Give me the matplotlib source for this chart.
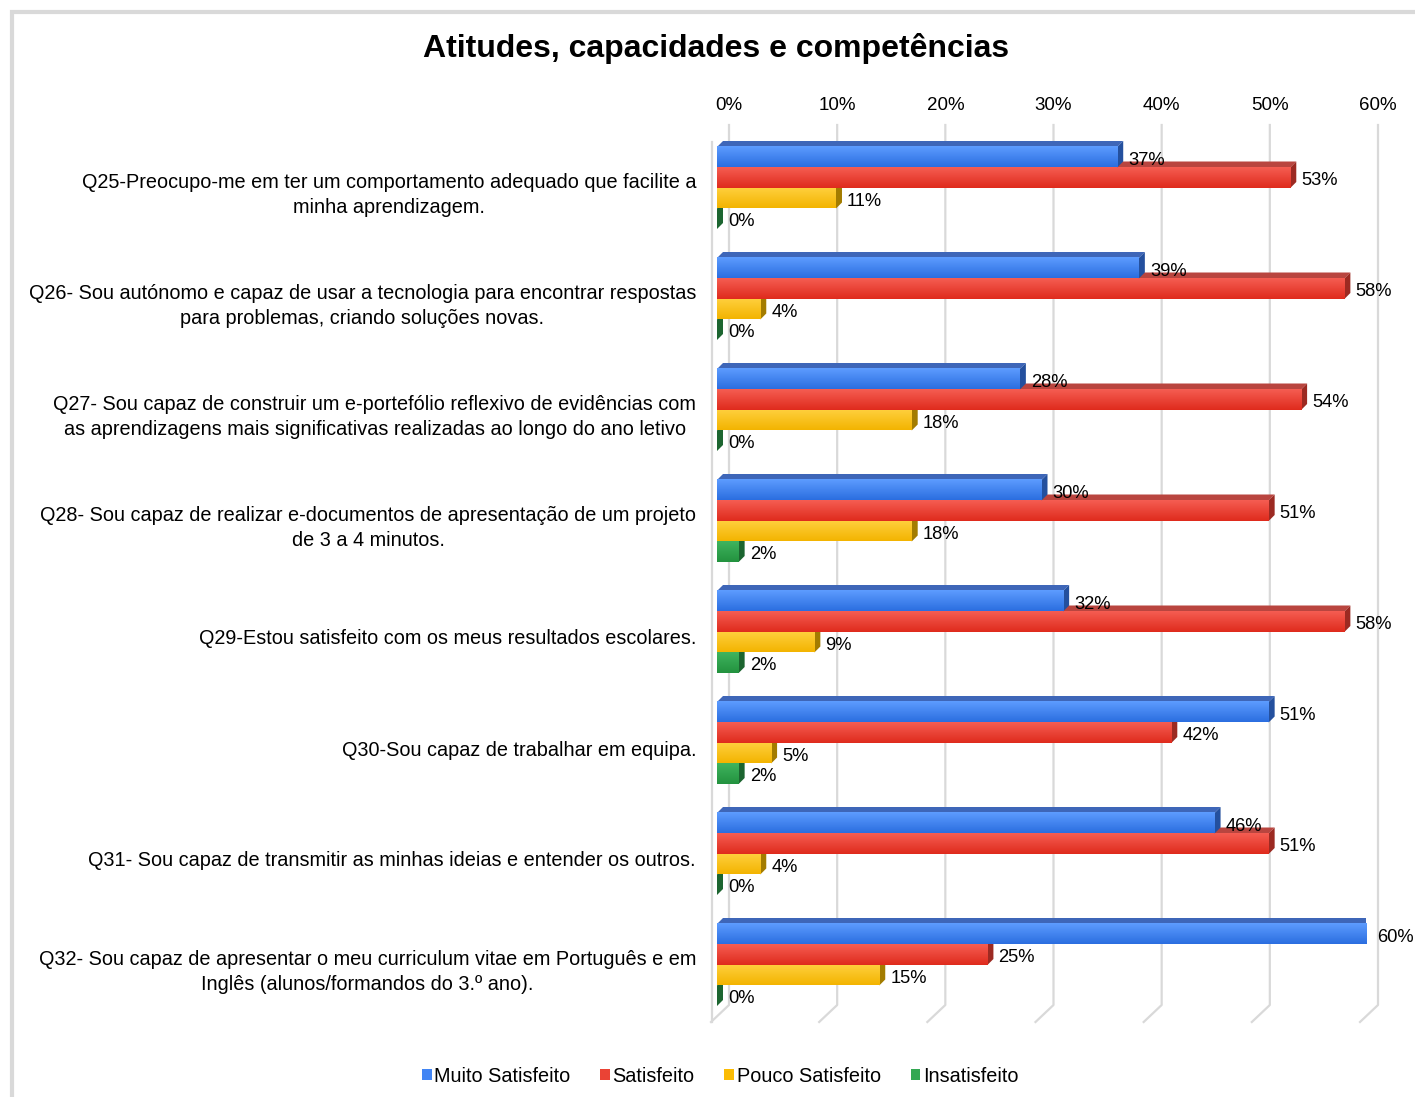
import numpy as np
import matplotlib
matplotlib.use('Agg')
import matplotlib.pyplot as plt
from matplotlib.patches import Polygon, Rectangle, Patch
from matplotlib.colors import LinearSegmentedColormap

plt.rcParams['font.family'] = ['Liberation Sans', 'DejaVu Sans']

title = 'Atitudes, capacidades e competências'
questions = [
    'Q25-Preocupo-me em ter um comportamento adequado que facilite a\nminha aprendizagem.',
    'Q26- Sou autónomo e capaz de usar a tecnologia para encontrar respostas\npara problemas, criando soluções novas.',
    'Q27- Sou capaz de construir um e-portefólio reflexivo de evidências com\nas aprendizagens mais significativas realizadas ao longo do ano letivo',
    'Q28- Sou capaz de realizar e-documentos de apresentação de um projeto\nde 3 a 4 minutos.',
    'Q29-Estou satisfeito com os meus resultados escolares.',
    'Q30-Sou capaz de trabalhar em equipa.',
    'Q31- Sou capaz de transmitir as minhas ideias e entender os outros.',
    'Q32- Sou capaz de apresentar o meu curriculum vitae em Português e em\nInglês (alunos/formandos do 3.º ano).',
]
series = ['Muito Satisfeito', 'Satisfeito', 'Pouco Satisfeito', 'Insatisfeito']
muito = [37, 39, 28, 30, 32, 51, 46, 60]
satisf = [53, 58, 54, 51, 58, 42, 51, 25]
pouco = [11, 4, 18, 18, 9, 5, 4, 15]
insat = [0, 0, 0, 2, 2, 2, 0, 0]
ticks = [0, 10, 20, 30, 40, 50, 60]

# colours: front face (top/bottom of gradient), top face, side face, legend
front_top = ['#5d9cff', '#f55d52', '#ffd03f', '#3fb45e']
front_bot = ['#2b6ee0', '#df2b1d', '#f3b400', '#23923f']
top_col = ['#3e66b8', '#b9453f', '#c79c1c', '#2a7a3e']
side_col = ['#24509e', '#9c2a22', '#a37c00', '#1c6530']
legend_col = ['#4285f4', '#ea4335', '#fbbc05', '#34a853']
grid_col = '#d9d9d9'

W, H = 1415, 1097
fig = plt.figure(figsize=(W / 100, H / 100), dpi=100)

# frame drawn around the chart (only top/left visible)
fig.add_artist(Rectangle((12 / W, -0.1), 2, 1.1 - 12 / H, transform=fig.transFigure,
                         fill=False, edgecolor=grid_col, lw=3))

ax = fig.add_axes([717 / W, 1 - 1022 / H, (1366 - 717) / W, (1022 - 122) / H])
ax.set_xlim(0, 60)
ax.set_ylim((1022 - 188) / 111, (122 - 188) / 111)
ax.axis('off')


def to_px(x, y):
    return ax.transData.transform((x, y))


def to_dat(p):
    return ax.transData.inverted().transform(p)


# back wall grid + floor
back_dx = 12
for t in ticks:
    xb = to_px(t, 0)[0] + back_dx
    pts = np.array([[xb, H - 125], [xb, H - 1005], [xb - 18, H - 1022]])
    d = to_dat(pts)
    ax.plot(d[:, 0], d[:, 1], color=grid_col, lw=1.6, zorder=0, clip_on=False)
    fig.text(xb / W, 1 - 105 / H, f'{t}%', ha='center', va='center', fontsize=13.5)

# left wall edge
d = to_dat(np.array([[712, H - 142], [712, H - 1022]]))
ax.plot(d[:, 0], d[:, 1], color=grid_col, lw=1.6, zorder=0, clip_on=False)

vals = [muito, satisf, pouco, insat]
h = 20.5 / 111
dx, dy = 6, 6
grad = np.linspace(0, 1, 64).reshape(-1, 1)
z = 1
for i in range(len(questions)):
    for j in reversed(range(4)):
        v = vals[j][i]
        yc = i + (j - 1.5) * h
        y0, y1 = yc - h / 2, yc + h / 2
        tl, tr, br = to_px(0, y0), to_px(v, y0), to_px(v, y1)
        off = np.array([dx, dy])
        top = to_dat(np.array([tl, tr, tr + off, tl + off]))
        side = to_dat(np.array([tr, br, br + off, tr + off]))
        ax.add_patch(Polygon(top, closed=True, facecolor=top_col[j], edgecolor='none', zorder=z))
        ax.add_patch(Polygon(side, closed=True, facecolor=side_col[j], edgecolor='none', zorder=z))
        if v > 0:
            cm = LinearSegmentedColormap.from_list('g', [front_top[j], front_bot[j]])
            ax.imshow(grad, cmap=cm, extent=[0, v, y1, y0], aspect='auto',
                      origin='upper', zorder=z, interpolation='bilinear')
        ax.annotate(f'{v}%', xy=(v, yc), xytext=(dx + 5, -3), textcoords='offset pixels',
                    ha='left', va='center', fontsize=13.2, zorder=100)
        z += 1

ax.set_xlim(0, 60)
ax.set_ylim((1022 - 188) / 111, (122 - 188) / 111)

for i, q in enumerate(questions):
    fig.text(696 / W, 1 - (188 + 111 * i + 7) / H, q, ha='right', va='center',
             multialignment='center', fontsize=14.3, linespacing=1.4)

fig.text(716 / W, 1 - 48 / H, title, ha='center', va='center', fontsize=23, fontweight='bold')

handles = [Patch(facecolor=c, edgecolor='none') for c in legend_col]
fig.legend(handles, series, loc='center', bbox_to_anchor=(720 / W, 1 - 1076 / H), ncol=4,
           frameon=False, fontsize=14.3, handlelength=0.5, handleheight=0.5,
           handletextpad=0.12, columnspacing=1.5)

fig.savefig('out.png', dpi=100)
